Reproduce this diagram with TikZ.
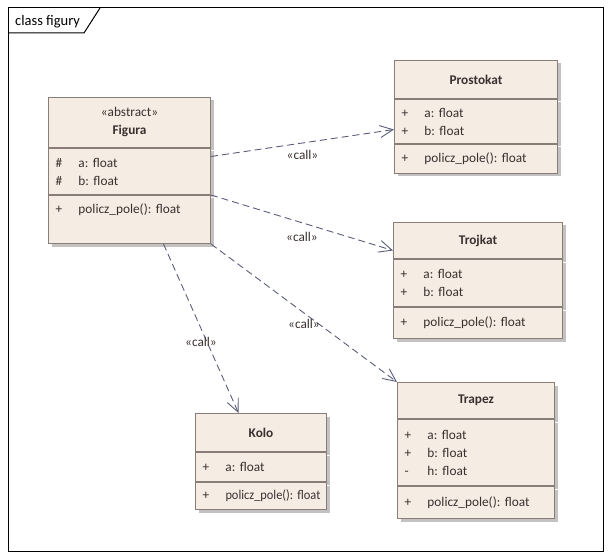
\documentclass[tikz,border=0pt]{standalone}
\usepackage{fontspec}
\setmainfont{Carlito}
\usepackage{graphicx}
\usetikzlibrary{positioning, shadows, arrows.meta}

\definecolor{umlramka}{RGB}{138,124,120}
\definecolor{umltlo}{RGB}{245,236,228}
\definecolor{umltekst}{RGB}{58,48,46}
\definecolor{umlcien}{RGB}{196,194,192}
\definecolor{umlkreska}{RGB}{90,94,122}

\newcommand{\skladnik}[2]{\makebox[23pt][l]{#1}#2}

\tikzstyle{przedzial} = [rectangle, draw=umlramka, line width=1pt, fill=umltlo, inner xsep=7pt, inner ysep=0pt, text=umltekst, font=\fontsize{13.3}{18}\selectfont, drop shadow={shadow xshift=3pt, shadow yshift=-3pt, fill=umlcien, opacity=1}]
\tikzstyle{naglowek} = [przedzial, align=center, anchor=north west]
\tikzstyle{lista} = [przedzial, align=left]
\tikzstyle{zaleznosc} = [draw=umlkreska, line width=0.9pt, dash pattern=on 7pt off 4pt, -{Straight Barb[length=13pt,width=12pt]}]
\tikzstyle{etykieta} = [font=\fontsize{13.3}{15}\selectfont, text=umltekst, inner sep=1pt]

\begin{document}
\frenchspacing
\begin{tikzpicture}[x=1pt, y=-1pt]
	\useasboundingbox (0,0) rectangle (611,559);
	% ramka diagramu
	\draw [line width=1pt] (8,8) rectangle (603,551);
	\draw [line width=1pt] (8,33) -- (84,33) -- (100,8);
	\node (tytul) [anchor=west, inner sep=0pt, font=\fontsize{14.5}{16}\selectfont] at (15,21.5) {class figury};
	% klasy
	\node (figura) [naglowek, text width=148pt, minimum height=50pt] at (48,97) {«abstract»\\\textbf{Figura}};
	\node (figura-a) [lista, below=0pt of figura, text width=148pt, minimum height=46pt] {\skladnik{\#}{a: float}\\\skladnik{\#}{b: float}};
	\node (figura-m) [lista, below=0pt of figura-a, text width=148pt, minimum height=48pt, text height=18pt, text depth=30pt] {\skladnik{+}{policz\_pole(): float}};

	\node (prostokat) [naglowek, text width=149pt, minimum height=38pt] at (394,60) {\textbf{Prostokat}};
	\node (prostokat-a) [lista, below=0pt of prostokat, text width=149pt, minimum height=44pt] {\skladnik{+}{a: float}\\\skladnik{+}{b: float}};
	\node (prostokat-m) [lista, below=0pt of prostokat-a, text width=149pt, minimum height=29pt] {\skladnik{+}{policz\_pole(): float}};

	\node (trojkat) [naglowek, text width=155pt, minimum height=36pt] at (393,222) {\textbf{Trojkat}};
	\node (trojkat-a) [lista, below=0pt of trojkat, text width=155pt, minimum height=47pt] {\skladnik{+}{a: float}\\\skladnik{+}{b: float}};
	\node (trojkat-m) [lista, below=0pt of trojkat-a, text width=155pt, minimum height=31pt] {\skladnik{+}{policz\_pole(): float}};

	\node (trapez) [naglowek, text width=143pt, minimum height=36pt] at (397,382) {\textbf{Trapez}};
	\node (trapez-a) [lista, below=0pt of trapez, text width=143pt, minimum height=66pt] {\skladnik{+}{a: float}\\\skladnik{+}{b: float}\\\skladnik{-}{h: float}};
	\node (trapez-m) [lista, below=0pt of trapez-a, text width=143pt, minimum height=32pt] {\skladnik{+}{policz\_pole(): float}};

	\node (kolo) [naglowek, text width=117pt, minimum height=38pt] at (195,413) {\textbf{Kolo}};
	\node (kolo-a) [lista, below=0pt of kolo, text width=117pt, minimum height=29pt] {\skladnik{+}{a: float}};
	\node (kolo-m) [lista, below=0pt of kolo-a, text width=117pt, minimum height=27pt] {\skladnik{+}{\scalebox{0.93}[1]{policz\_pole(): float}}};
	% zaleznosci
	\draw [zaleznosc] ([yshift=15pt]figura-a.east) -- node (call1) [etykieta, yshift=-12pt] {«call»} ([yshift=-8pt]prostokat-a.west);
	\draw [zaleznosc] (figura-m.north east) -- node (call2) [etykieta, yshift=-14pt] {«call»} ([yshift=-10pt]trojkat.west);
	\draw [zaleznosc] (figura-m.south east) -- node (call3) [etykieta, yshift=-11pt] {«call»} (trapez.north west);
	\draw [zaleznosc] ([xshift=34pt]figura-m.south) -- node (call4) [etykieta, pos=0.58, xshift=-6pt] {«call»} ([xshift=-22.5pt]kolo.north);
\end{tikzpicture}
\end{document}
